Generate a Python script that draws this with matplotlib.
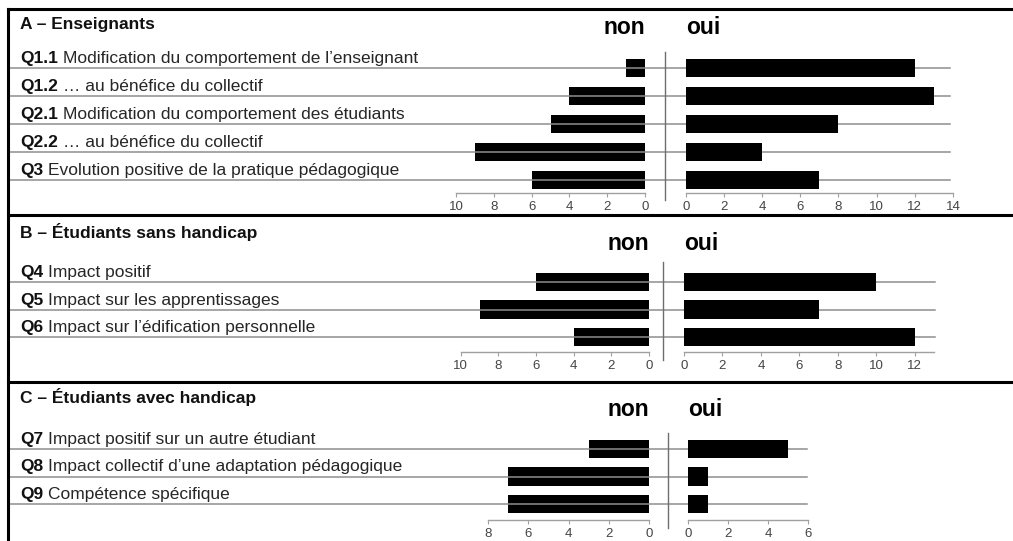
import matplotlib
matplotlib.use("Agg")
import matplotlib.pyplot as plt
import matplotlib.transforms as mtransforms
from matplotlib.lines import Line2D

plt.rcParams["font.family"] = ["Liberation Sans", "DejaVu Sans"]

# ---------------------------------------------------------------------------
# Data
# ---------------------------------------------------------------------------

A_TITLE = "A – Enseignants"
A_CODES = ["Q1.1", "Q1.2", "Q2.1", "Q2.2", "Q3"]
A_TEXTS = [
    "Modification du comportement de l’enseignant",
    "… au bénéfice du collectif",
    "Modification du comportement des étudiants",
    "… au bénéfice du collectif",
    "Evolution positive de la pratique pédagogique",
]
A_NON = [1, 4, 5, 9, 6]
A_OUI = [12, 13, 8, 4, 7]

B_TITLE = "B – Étudiants sans handicap"
B_CODES = ["Q4", "Q5", "Q6"]
B_TEXTS = [
    "Impact positif",
    "Impact sur les apprentissages",
    "Impact sur l’édification personnelle",
]
B_NON = [6, 9, 4]
B_OUI = [10, 7, 12]

C_TITLE = "C – Étudiants avec handicap"
C_CODES = ["Q7", "Q8", "Q9"]
C_TEXTS = [
    "Impact positif sur un autre étudiant",
    "Impact collectif d’une adaptation pédagogique",
    "Compétence spécifique",
]
C_NON = [3, 7, 7]
C_OUI = [5, 1, 1]

# ---------------------------------------------------------------------------
# Layout (pixels in a 1013 x 541 canvas)
# ---------------------------------------------------------------------------

W, H = 1013, 541

PANELS = [
    dict(title=A_TITLE, codes=A_CODES, texts=A_TEXTS, non=A_NON, oui=A_OUI,
         title_y=25, head_y=28, row0=68, step=28, axis_y=193,
         non_x=(456, 645), non_max=10, oui_x=(685.7, 953), oui_max=14,
         div_x=665, div_y=(52, 200), line_end=950),
    dict(title=B_TITLE, codes=B_CODES, texts=B_TEXTS, non=B_NON, oui=B_OUI,
         title_y=232, head_y=243, row0=282, step=27.5, axis_y=352,
         non_x=(460.7, 649), non_max=10, oui_x=(684, 934), oui_max=13,
         div_x=663, div_y=(262, 360), line_end=935),
    dict(title=C_TITLE, codes=C_CODES, texts=C_TEXTS, non=C_NON, oui=C_OUI,
         title_y=397, head_y=409, row0=449, step=27.5, axis_y=520,
         non_x=(488, 649), non_max=8, oui_x=(688, 808), oui_max=6,
         div_x=667.7, div_y=(433, 528), line_end=807),
]

LABEL_X = 20
LINE_START = 9
BAR_H = 0.66
GRID_COLOR = "#8e8e8e"
LABEL_SIZE = 12.5


def fx(x):
    return x / W


def fy(y):
    return 1 - y / H


def _bar_axes(fig, xs, p, xmax, reverse):
    top_px = p["row0"] - 0.6 * p["step"]
    ax = fig.add_axes([fx(xs[0]), fy(p["axis_y"]),
                       fx(xs[1] - xs[0]), (p["axis_y"] - top_px) / H])
    ax.set_ylim((p["axis_y"] - p["row0"]) / p["step"], -0.6)
    if reverse:
        ax.set_xlim(xmax, 0)
    else:
        ax.set_xlim(0, xmax)
    ax.set_xticks(range(0, xmax + 1, 2))
    ax.set_yticks([])
    for s in ("top", "left", "right"):
        ax.spines[s].set_visible(False)
    ax.spines["bottom"].set_color("#a0a0a0")
    ax.spines["bottom"].set_linewidth(1.0)
    ax.tick_params(axis="x", direction="out", length=3, width=0.8,
                   color="#a0a0a0", labelsize=9.5, labelcolor="#444444", pad=3)
    ax.patch.set_alpha(0)
    return ax


def draw_panel(fig, p):
    rows = list(range(len(p["codes"])))

    ax_non = _bar_axes(fig, p["non_x"], p, p["non_max"], reverse=True)
    ax_oui = _bar_axes(fig, p["oui_x"], p, p["oui_max"], reverse=False)

    ax_non.barh(rows, p["non"], height=BAR_H, color="black", zorder=2)
    ax_oui.barh(rows, p["oui"], height=BAR_H, color="black", zorder=2)

    # grey row lines running through labels and bars
    trans = mtransforms.blended_transform_factory(fig.transFigure, ax_non.transData)
    for r in rows:
        ax_non.plot([fx(LINE_START), fx(p["line_end"])], [r, r], transform=trans,
                    color=GRID_COLOR, lw=1.1, clip_on=False, zorder=5)

    # question labels (bold code + regular text), sitting just above each line
    for r, code, text in zip(rows, p["codes"], p["texts"]):
        y = r - 5 / p["step"]
        t = ax_non.text(fx(LABEL_X), y, code, transform=trans, fontsize=LABEL_SIZE,
                        fontweight="bold", va="baseline", ha="left", color="#111111")
        ax_non.annotate(text, xy=(1, 0), xycoords=t, xytext=(3.5, 0),
                        textcoords="offset points", fontsize=LABEL_SIZE,
                        va="bottom", ha="left", color="#262626")

    # section title and column heads
    fig.text(fx(LABEL_X), fy(p["title_y"]), p["title"], fontsize=12.5,
             fontweight="bold", va="center", ha="left", color="#111111")
    fig.text(fx(p["non_x"][1]), fy(p["head_y"]), "non", fontsize=16.5,
             fontweight="bold", va="center", ha="right")
    fig.text(fx(p["oui_x"][0]), fy(p["head_y"]), "oui", fontsize=16.5,
             fontweight="bold", va="center", ha="left")

    # vertical divider between non / oui
    fig.add_artist(Line2D([fx(p["div_x"])] * 2, [fy(p["div_y"][0]), fy(p["div_y"][1])],
                          transform=fig.transFigure, color="#6e6e6e", lw=1.0))


fig = plt.figure(figsize=(W / 100, H / 100), dpi=100)
fig.patch.set_facecolor("white")

for p in PANELS:
    draw_panel(fig, p)

# panel frames
frame = dict(transform=fig.transFigure, color="black", lw=2.2)
fig.add_artist(Line2D([fx(8), 1], [fy(9), fy(9)], **frame))
fig.add_artist(Line2D([fx(8), 1], [fy(214.5), fy(214.5)], **frame))
fig.add_artist(Line2D([fx(8), 1], [fy(382), fy(382)], **frame))
fig.add_artist(Line2D([fx(8), fx(8)], [fy(9), 0], **frame))

fig.savefig("out.png", dpi=100, facecolor="white")
